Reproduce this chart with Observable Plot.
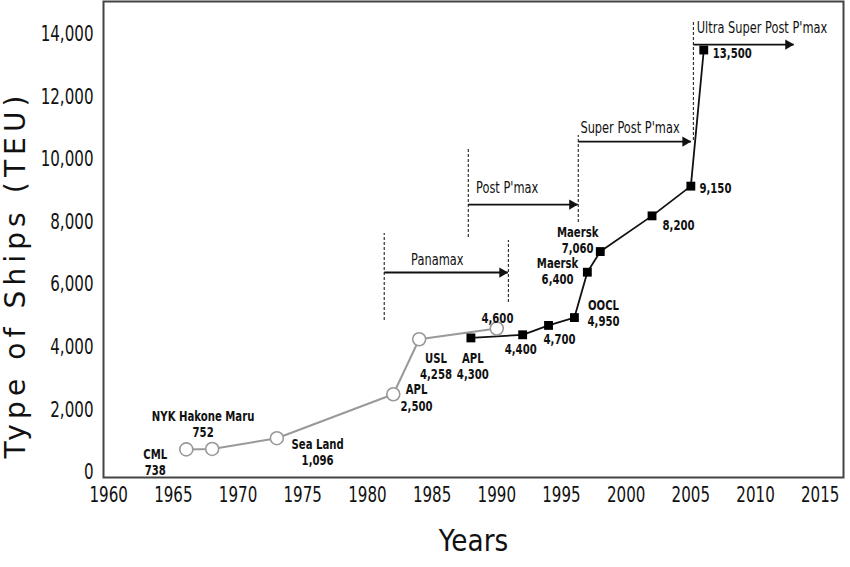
<!DOCTYPE html>
<html>
<head>
<meta charset="utf-8">
<script src="https://cdn.jsdelivr.net/npm/d3@7"></script>
<script src="https://cdn.jsdelivr.net/npm/@observablehq/plot@0.6"></script>
<style>
  html, body { margin: 0; padding: 0; background: #fff; }
</style>
</head>
<body>
<div id="chart"></div>
<script>
// ---- data ----
const earlyYears = [1966, 1968, 1973, 1982, 1984, 1990];
const earlyTEU   = [738, 752, 1096, 2500, 4258, 4600];

const lateYears = [1988, 1992, 1994, 1996, 1997, 1998, 2002, 2005, 2006];
const lateTEU   = [4300, 4400, 4700, 4950, 6400, 7060, 8200, 9150, 13500];

// point labels (text, anchor year, anchor TEU)
const pointLabelText = ["CML\n738", "NYK Hakone Maru\n752", "Sea Land\n1,096", "APL\n2,500", "USL\n4,258", "APL\n4,300", "4,600", "4,400", "4,700", "OOCL\n4,950", "Maersk\n6,400", "Maersk\n7,060", "8,200", "9,150", "13,500"];
const pointLabelYear = [1963.6, 1967.3, 1976.15, 1983.8, 1985.3, 1988.15, 1990.05, 1991.85, 1994.85, 1998.25, 1994.7, 1996.25, 2004.05, 2006.9, 2008.2];
const pointLabelTEU  = [350, 1550, 670, 2400, 3420, 3420, 4950, 3960, 4280, 5110, 6450, 7440, 7920, 9100, 13420];

// era annotations
const eraNames     = ["Panamax", "Post P'max", "Super Post P'max", "Ultra Super Post P'max"];
const eraLabelYear = [1985.4, 1990.8, 2000.3, 2010.5];
const eraLabelTEU  = [6770, 9100, 10990, 14185];
const eraArrowFrom = [1981.3, 1987.8, 1996.3, 2005.2];
const eraArrowTo   = [1990.85, 1996.25, 2005.0, 2012.95];
const eraArrowTEU  = [6390, 8560, 10575, 13675];

// dashed boundary lines
const boundYear = [1981.3, 1990.9, 1987.8, 1996.3, 2005.2];
const boundLow  = [4860, 5430, 7510, 7990, 10610];
const boundHigh = [7640, 7410, 10380, 10770, 14440];

const xTicks = [1960, 1965, 1970, 1975, 1980, 1985, 1990, 1995, 2000, 2005, 2010, 2015];
const yTicks = [0, 2000, 4000, 6000, 8000, 10000, 12000, 14000];

// ---- tables built from arrays ----
const early = earlyYears.map((y, i) => ({year: y, teu: earlyTEU[i]}));
const late = lateYears.map((y, i) => ({year: y, teu: lateTEU[i]}));
const pointLabels = pointLabelText.map((t, i) => ({text: t, year: pointLabelYear[i], teu: pointLabelTEU[i]}));
const eras = eraNames.map((n, i) => ({name: n, lx: eraLabelYear[i], ly: eraLabelTEU[i], x1: eraArrowFrom[i], x2: eraArrowTo[i], y: eraArrowTEU[i]}));
const bounds = boundYear.map((y, i) => ({year: y, lo: boundLow[i], hi: boundHigh[i]}));

const font = "'DejaVu Sans', sans-serif";

const chart = Plot.plot({
  width: 850,
  height: 567,
  marginLeft: 103,
  marginRight: 7,
  marginTop: 1,
  marginBottom: 90,
  style: {fontFamily: font, background: "#fff", color: "#111"},
  x: {domain: [1959.6, 2016.8], label: null},
  y: {domain: [-160, 15050], label: null},
  marks: [
    Plot.frame({stroke: "#444", strokeWidth: 2}),
    Plot.axisX({ticks: xTicks, tickFormat: d => String(d), tickSize: 0, tickPadding: 10, fontSize: 21, label: null, className: "sq72"}),
    Plot.axisY({ticks: yTicks, tickFormat: d3.format(","), tickSize: 0, tickPadding: 10, fontSize: 21, label: null, className: "sq72"}),
    // dashed boundaries
    Plot.ruleX(bounds, {x: "year", y1: "lo", y2: "hi", stroke: "#333", strokeWidth: 1.2, strokeDasharray: "3,2"}),
    // era arrows
    Plot.link(eras, {x1: "x1", x2: "x2", y1: "y", y2: "y", stroke: "#111", strokeWidth: 1.8}),
    Plot.dot(eras, {x: "x2", y: "y", symbol: "triangle", rotate: 90, r: 3.8, fill: "#111", stroke: "none", dx: -5.5}),
    Plot.text(eras, {x: "lx", y: "ly", text: "name", fontSize: 15, fill: "#111", className: "sq76"}),
    // series
    Plot.line(early, {x: "year", y: "teu", stroke: "#999", strokeWidth: 2}),
    Plot.line(late, {x: "year", y: "teu", stroke: "#111", strokeWidth: 1.8}),
    Plot.dot(early, {x: "year", y: "teu", r: 6.5, fill: "#fff", stroke: "#999", strokeWidth: 1.6}),
    Plot.dot(late, {x: "year", y: "teu", symbol: "square", r: 5, fill: "#000", stroke: "none"}),
    // point labels
    Plot.text(pointLabels, {x: "year", y: "teu", text: "text", fontSize: 13.5, fontWeight: "bold", lineHeight: 1.2, fill: "#111", className: "sq75"}),
    // axis titles
    Plot.text(["Type of Ships (TEU)"], {frameAnchor: "left", dx: -87, dy: 219, rotate: -90, textAnchor: "start", fontSize: 28, fill: "#111", text: d => d, className: "ytitle"}),
    Plot.text(["Years"], {frameAnchor: "bottom", dy: 73, fontSize: 31, fill: "#111", text: d => d, className: "sq85"})
  ]
});

// horizontally condense text (no condensed font installed)
function squeeze(cls, k) {
  chart.querySelectorAll("g." + cls + " text").forEach(t => {
    const tr = t.getAttribute("transform");
    if (tr) {
      t.setAttribute("transform", tr + ` scale(${k},1)`);
    } else {
      const x = +(t.getAttribute("x") || 0);
      t.setAttribute("x", x / k);
      t.setAttribute("transform", `scale(${k},1)`);
    }
  });
}
squeeze("sq72", 0.72);
squeeze("sq75", 0.75);
squeeze("sq76", 0.76);
squeeze("sq85", 0.85);
chart.querySelectorAll("g.ytitle text").forEach(t => {
  t.setAttribute("textLength", "363");
  t.setAttribute("lengthAdjust", "spacing");
});
document.getElementById("chart").appendChild(chart);
</script>
</body>
</html>
